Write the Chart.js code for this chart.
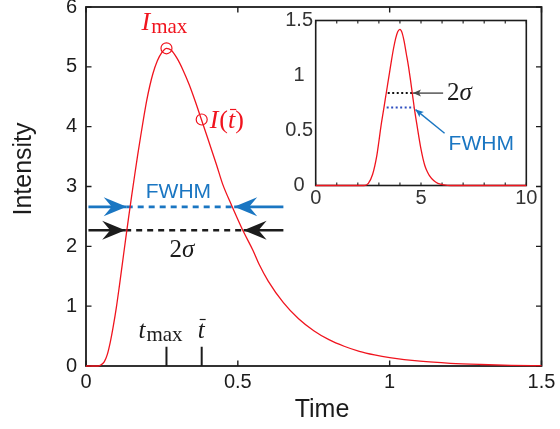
<!DOCTYPE html>
<html>
<head>
<meta charset="utf-8">
<script src="https://cdn.jsdelivr.net/npm/chart.js@4.4.1/dist/chart.umd.min.js"></script>
<style>
  html, body { margin: 0; padding: 0; background: #fff; }
  #wrap { position: relative; width: 560px; height: 429px; }
  #main { position: absolute; left: 0; top: 0; }
  #inset { position: absolute; left: 280px; top: 8px; }
</style>
</head>
<body>
<div id="wrap">
  <canvas id="main" width="560" height="429"></canvas>
  <canvas id="inset" width="260" height="200"></canvas>
</div>
<script>
// pulse I(t) in the main axes
const timeMain = [0, 0.04, 0.05, 0.06, 0.07, 0.08, 0.09, 0.10, 0.11, 0.12,
  0.13, 0.14, 0.15, 0.16, 0.17, 0.18, 0.19, 0.20, 0.21, 0.22,
  0.235, 0.25, 0.265, 0.28, 0.30, 0.32, 0.34, 0.36, 0.38, 0.40,
  0.43, 0.45, 0.48, 0.50, 0.52, 0.55, 0.57, 0.60, 0.65, 0.70,
  0.75, 0.80, 0.85, 0.90, 0.95, 1.0, 1.1, 1.2, 1.3, 1.4, 1.5];
const intensityMain = [0, 0, 0.02, 0.07, 0.19, 0.4, 0.67, 0.98, 1.34, 1.72,
  2.1, 2.47, 2.83, 3.18, 3.52, 3.84, 4.15, 4.44, 4.68, 4.88,
  5.1, 5.24, 5.31, 5.28, 5.14, 4.94, 4.7, 4.42, 4.12, 3.82,
  3.36, 3.04, 2.68, 2.45, 2.23, 1.93, 1.7, 1.42, 1.06, 0.79,
  0.59, 0.44, 0.33, 0.245, 0.185, 0.14, 0.08, 0.045, 0.025, 0.012, 0.005];

// t_max and t-bar with their intensities
const markerTime = [0.265, 0.381];
const markerIntensity = [5.31, 4.12];
const markerTickTop = 0.32;

// width arrows: [tail start, left tip, right tip, tail end]
const fwhmLevel = 2.66;
const fwhmX = [0.008, 0.134, 0.488, 0.65];
const sigmaLevel = 2.27;
const sigmaX = [0.008, 0.129, 0.519, 0.65];

// inset pulse
const timeInset = [0, 2.3, 2.5, 2.7, 2.9, 3.0, 3.1, 3.2, 3.3, 3.4,
  3.5, 3.6, 3.7, 3.8, 3.9, 4.0, 4.1, 4.2, 4.3, 4.4,
  4.5, 4.6, 4.7, 4.8, 4.9, 5.0, 5.1, 5.2, 5.3, 5.4,
  5.6, 5.8, 6.1, 6.4, 10];
const intensityInset = [0, 0, 0.02, 0.1, 0.27, 0.4, 0.54, 0.66, 0.78, 0.9,
  1.02, 1.14, 1.25, 1.34, 1.4, 1.42, 1.39, 1.31, 1.2, 1.09,
  0.96, 0.82, 0.68, 0.56, 0.44, 0.33, 0.24, 0.17, 0.125, 0.09,
  0.045, 0.02, 0.005, 0, 0];

// inset widths and their pointers [x, y] tail -> tip
const sigmaInsetLevel = 0.84;
const sigmaInsetX = [3.42, 4.58];
const sigmaPointer = [[6.05, 0.84], [4.62, 0.84]];
const fwhmInsetLevel = 0.71;
const fwhmInsetX = [3.37, 4.67];
const fwhmPointer = [[6.12, 0.475], [4.74, 0.69]];

const RED = '#f0141e';
const BLUE = '#1a76c2';
const DARK = '#1c1c1c';
const SANS = "'Liberation Sans', Arial, sans-serif";
const SERIF = "'Liberation Serif', 'Times New Roman', serif";

const pts = (xs, ys) => xs.map((v, i) => ({x: v, y: ys[i]}));
const hline = (xs, level) => xs.map(v => ({x: v, y: level}));

// filled arrow head with a notched back, pointing along angle
function arrowHead(ctx, x, y, angle, len, halfW, notch, color) {
  ctx.save();
  ctx.translate(x, y);
  ctx.rotate(angle);
  ctx.fillStyle = color;
  ctx.beginPath();
  ctx.moveTo(0, 0);
  ctx.lineTo(-len, -halfW);
  ctx.lineTo(-len + notch, 0);
  ctx.lineTo(-len, halfW);
  ctx.closePath();
  ctx.fill();
  ctx.restore();
}

// runs of text in different fonts, left to right
function drawRuns(ctx, x, y, runs, color) {
  ctx.save();
  ctx.fillStyle = color;
  ctx.textBaseline = 'alphabetic';
  ctx.textAlign = 'left';
  let cx = x;
  runs.forEach(r => {
    ctx.font = r.font;
    ctx.fillText(r.text, cx, y + (r.dy || 0));
    const w = ctx.measureText(r.text).width;
    if (r.bar) {
      ctx.strokeStyle = color;
      ctx.lineWidth = 1.2;
      ctx.beginPath();
      ctx.moveTo(cx + 2, y - 18.5);
      ctx.lineTo(cx + w + 1, y - 18.5);
      ctx.stroke();
    }
    cx += w + (r.gap || 0);
  });
  ctx.restore();
  return cx;
}

// box around the axes with inward ticks
const boxTicks = {
  id: 'boxTicks',
  beforeDatasetsDraw(chart, args, opts) {
    const {ctx, chartArea: a, scales: {x, y}} = chart;
    ctx.save();
    ctx.strokeStyle = opts.color;
    ctx.lineWidth = opts.width;
    ctx.strokeRect(a.left, a.top, a.right - a.left, a.bottom - a.top);
    ctx.lineWidth = opts.tickWidth;
    ctx.beginPath();
    x.ticks.forEach(t => {
      const px = x.getPixelForValue(t.value);
      ctx.moveTo(px, a.bottom); ctx.lineTo(px, a.bottom - opts.xLen);
      ctx.moveTo(px, a.top); ctx.lineTo(px, a.top + opts.xLen);
    });
    if (opts.yLen > 0) {
      y.ticks.forEach(t => {
        const py = y.getPixelForValue(t.value);
        ctx.moveTo(a.left, py); ctx.lineTo(a.left + opts.yLen, py);
        ctx.moveTo(a.right, py); ctx.lineTo(a.right - opts.yLen, py);
      });
    }
    ctx.stroke();
    ctx.restore();
  }
};

// arrow heads, labels and axis titles of the main axes
const mainNotes = {
  id: 'mainNotes',
  afterDatasetsDraw(chart) {
    const {ctx, scales: {x, y}} = chart;
    const fy = y.getPixelForValue(fwhmLevel);
    const sy = y.getPixelForValue(sigmaLevel);
    arrowHead(ctx, x.getPixelForValue(fwhmX[1]), fy, 0, 23, 9.5, 8, BLUE);
    arrowHead(ctx, x.getPixelForValue(fwhmX[2]), fy, Math.PI, 23, 9.5, 8, BLUE);
    arrowHead(ctx, x.getPixelForValue(sigmaX[1]), sy, 0, 23, 9.5, 8, DARK);
    arrowHead(ctx, x.getPixelForValue(sigmaX[2]), sy, Math.PI, 23, 9.5, 8, DARK);

    ctx.save();
    ctx.fillStyle = BLUE;
    ctx.font = '21px ' + SANS;
    ctx.textAlign = 'center';
    ctx.textBaseline = 'middle';
    ctx.fillText('FWHM', (x.getPixelForValue(fwhmX[1]) + x.getPixelForValue(fwhmX[2])) / 2 - 2, fy - 15);
    ctx.restore();

    const midS = (x.getPixelForValue(sigmaX[1]) + x.getPixelForValue(sigmaX[2])) / 2;
    drawRuns(ctx, midS - 15, sy + 27, [
      {text: '2', font: '25px ' + SERIF},
      {text: 'σ', font: 'italic 25px ' + SERIF}
    ], DARK);

    const peakX = x.getPixelForValue(markerTime[0]);
    const peakY = y.getPixelForValue(markerIntensity[0]);
    drawRuns(ctx, peakX - 25, peakY - 18, [
      {text: 'I', font: 'italic 26px ' + SERIF, gap: 1},
      {text: 'max', font: '21px ' + SERIF, dy: 3}
    ], RED);

    const barX = x.getPixelForValue(markerTime[1]);
    const barY = y.getPixelForValue(markerIntensity[1]);
    drawRuns(ctx, barX + 8, barY + 8.5, [
      {text: 'I', font: 'italic 26px ' + SERIF, gap: 1},
      {text: '(', font: '26px ' + SERIF},
      {text: 't', font: 'italic 26px ' + SERIF, bar: true},
      {text: ')', font: '26px ' + SERIF}
    ], RED);

    const base = y.getPixelForValue(0);
    drawRuns(ctx, peakX - 28, base - 28, [
      {text: 't', font: 'italic 25px ' + SERIF, gap: 1},
      {text: 'max', font: '21px ' + SERIF, dy: 3}
    ], DARK);
    drawRuns(ctx, barX - 4, base - 28, [
      {text: 't', font: 'italic 25px ' + SERIF, bar: true}
    ], DARK);

    ctx.save();
    ctx.fillStyle = DARK;
    ctx.font = '25px ' + SANS;
    ctx.textAlign = 'center';
    ctx.textBaseline = 'middle';
    ctx.fillText('Time', 322, 410);
    ctx.translate(24, 169);
    ctx.rotate(-Math.PI / 2);
    ctx.fillText('Intensity', 0, 0);
    ctx.restore();
  }
};

// pointers and labels inside the inset
const insetNotes = {
  id: 'insetNotes',
  afterDatasetsDraw(chart) {
    const {ctx, scales: {x, y}} = chart;
    const drawPointer = (p, color) => {
      const x0 = x.getPixelForValue(p[0][0]), y0 = y.getPixelForValue(p[0][1]);
      const x1 = x.getPixelForValue(p[1][0]), y1 = y.getPixelForValue(p[1][1]);
      ctx.save();
      ctx.strokeStyle = color;
      ctx.lineWidth = 1.4;
      ctx.beginPath();
      ctx.moveTo(x0, y0);
      ctx.lineTo(x1, y1);
      ctx.stroke();
      ctx.restore();
      arrowHead(ctx, x1, y1, Math.atan2(y1 - y0, x1 - x0), 8, 3.5, 2, color);
      return [x0, y0];
    };
    const s = drawPointer(sigmaPointer, '#4a4a4a');
    const f = drawPointer(fwhmPointer, BLUE);
    drawRuns(ctx, s[0] + 4, s[1] + 7, [
      {text: '2', font: '25px ' + SERIF},
      {text: 'σ', font: 'italic 25px ' + SERIF}
    ], DARK);
    ctx.save();
    ctx.fillStyle = BLUE;
    ctx.font = '21px ' + SANS;
    ctx.textBaseline = 'middle';
    ctx.fillText('FWHM', f[0] + 4, f[1] + 11);
    ctx.restore();
  }
};

const tickFont = {family: SANS, size: 20};

new Chart(document.getElementById('main'), {
  type: 'line',
  data: {
    datasets: [
      {data: pts(timeMain, intensityMain), borderColor: RED, borderWidth: 1.3,
        pointRadius: 0, cubicInterpolationMode: 'monotone', clip: 3},
      {data: pts(markerTime, markerIntensity), showLine: false, pointRadius: 5.5,
        pointBorderColor: RED, pointBackgroundColor: 'rgba(0,0,0,0)', pointBorderWidth: 1.2},
      {data: [{x: markerTime[0], y: 0}, {x: markerTime[0], y: markerTickTop}],
        borderColor: DARK, borderWidth: 2, pointRadius: 0},
      {data: [{x: markerTime[1], y: 0}, {x: markerTime[1], y: markerTickTop}],
        borderColor: DARK, borderWidth: 2, pointRadius: 0},
      {data: hline([fwhmX[0], fwhmX[1]], fwhmLevel), borderColor: BLUE, borderWidth: 2.6, pointRadius: 0},
      {data: hline([fwhmX[1], fwhmX[2]], fwhmLevel), borderColor: BLUE, borderWidth: 2.6,
        borderDash: [6, 5], pointRadius: 0},
      {data: hline([fwhmX[2], fwhmX[3]], fwhmLevel), borderColor: BLUE, borderWidth: 2.6, pointRadius: 0},
      {data: hline([sigmaX[0], sigmaX[1]], sigmaLevel), borderColor: DARK, borderWidth: 2.6, pointRadius: 0},
      {data: hline([sigmaX[1], sigmaX[2]], sigmaLevel), borderColor: DARK, borderWidth: 2.6,
        borderDash: [6, 5], pointRadius: 0},
      {data: hline([sigmaX[2], sigmaX[3]], sigmaLevel), borderColor: DARK, borderWidth: 2.6, pointRadius: 0}
    ]
  },
  options: {
    responsive: false,
    animation: false,
    layout: {padding: {left: 0, top: 7, right: 18.5, bottom: 0}},
    plugins: {
      legend: {display: false},
      tooltip: {enabled: false},
      boxTicks: {color: DARK, width: 1.8, tickWidth: 1.4, xLen: 5.5, yLen: 5.5}
    },
    scales: {
      x: {
        type: 'linear', min: 0, max: 1.5,
        grid: {display: false, drawTicks: false},
        border: {display: false},
        ticks: {stepSize: 0.5, autoSkip: false, maxRotation: 0, padding: 4, color: DARK, font: tickFont,
          callback: v => String(v)},
        afterFit: s => { s.height = 63; s.paddingLeft = 0; s.paddingRight = 0; }
      },
      y: {
        min: 0, max: 6,
        grid: {display: false, drawTicks: false},
        border: {display: false},
        ticks: {stepSize: 1, padding: 9, color: DARK, font: tickFont},
        afterFit: s => { s.width = 86; s.paddingTop = 0; s.paddingBottom = 0; }
      }
    }
  },
  plugins: [boxTicks, mainNotes]
});

new Chart(document.getElementById('inset'), {
  type: 'line',
  data: {
    datasets: [
      {data: pts(timeInset, intensityInset), borderColor: RED, borderWidth: 1.3,
        pointRadius: 0, cubicInterpolationMode: 'monotone', clip: 3},
      {data: hline(sigmaInsetX, sigmaInsetLevel), borderColor: '#111', borderWidth: 2,
        borderDash: [2, 2.5], pointRadius: 0},
      {data: hline(fwhmInsetX, fwhmInsetLevel), borderColor: '#2f4fc0', borderWidth: 2,
        borderDash: [2, 2.5], pointRadius: 0}
    ]
  },
  options: {
    responsive: false,
    animation: false,
    layout: {padding: {left: 0, top: 12.5, right: 13.7, bottom: 0}},
    plugins: {
      legend: {display: false},
      tooltip: {enabled: false},
      boxTicks: {color: DARK, width: 1.6, tickWidth: 1.1, xLen: 3, yLen: 0}
    },
    scales: {
      x: {
        type: 'linear', min: 0, max: 10,
        grid: {display: false, drawTicks: false},
        border: {display: false},
        ticks: {stepSize: 1, autoSkip: false, maxRotation: 0, padding: 1, color: '#333', font: tickFont,
          callback: v => (v % 5 === 0 ? String(v) : '')},
        afterFit: s => { s.height = 22.5; s.paddingLeft = 0; s.paddingRight = 0; }
      },
      y: {
        min: 0, max: 1.5,
        grid: {display: false, drawTicks: false},
        border: {display: false},
        ticks: {stepSize: 0.5, padding: 2.7, crossAlign: 'center', color: '#333', font: tickFont,
          callback: v => String(v)},
        afterFit: s => { s.width = 35.7; s.paddingTop = 0; s.paddingBottom = 0; }
      }
    }
  },
  plugins: [boxTicks, insetNotes]
});
</script>
</body>
</html>
